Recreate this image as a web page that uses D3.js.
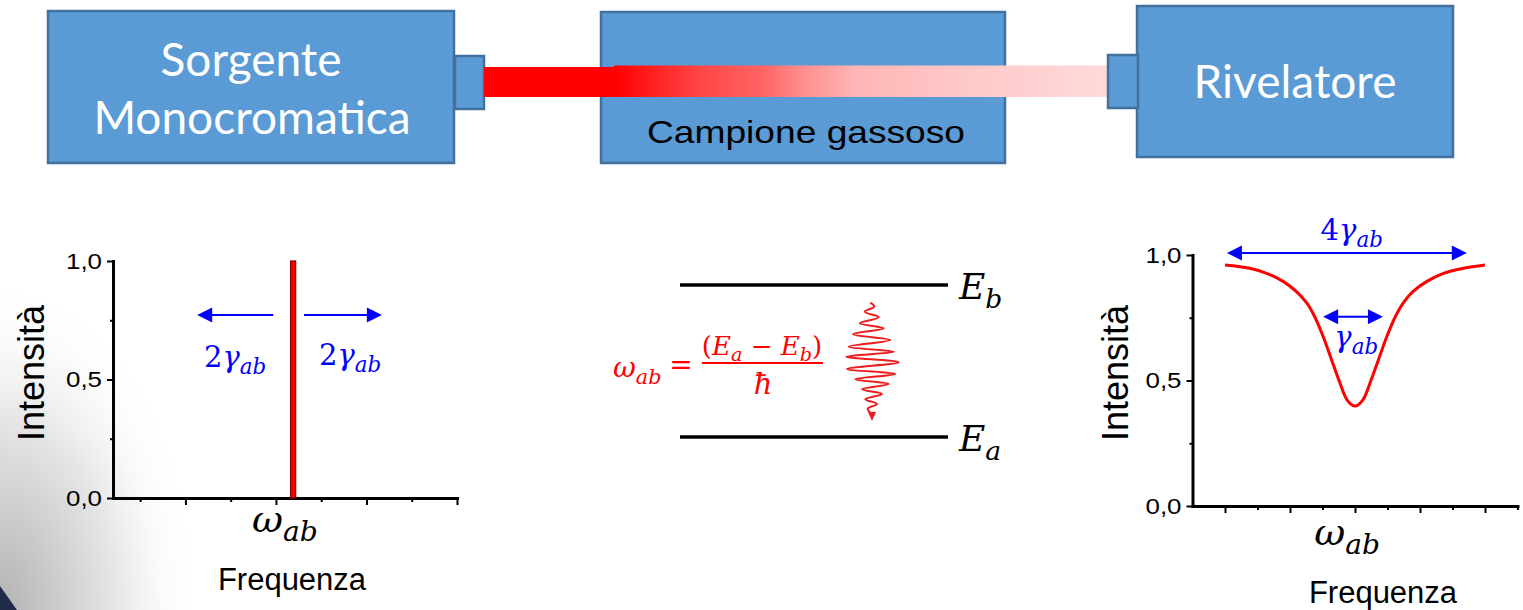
<!DOCTYPE html>
<html>
<head>
<meta charset="utf-8">
<script src="https://cdn.jsdelivr.net/npm/d3@7"></script>
<style>
  body { margin: 0; background: #ffffff; }
  svg { display: block; }
</style>
</head>
<body>
<svg id="fig" width="1523" height="610"></svg>
<script>
// ---------- data ----------
const tickValues = [0, 0.5, 1];
const tickLabels = ["0,0", "0,5", "1,0"];
const minorYTicks = [0.25, 0.75];

// incident beam: one monochromatic line just above ω_ab
const sourceFreq = [0.19];
const sourceIntensity = [1.0];

// transmitted beam: absorption dip centred on ω_ab (frequency in units of γ_ab)
const detFreq = [-2.0, -1.62, -1.36, -1.10, -0.90, -0.74, -0.62, -0.49, -0.36, -0.23, -0.12, 0,
                 0.12, 0.23, 0.36, 0.49, 0.62, 0.74, 0.89, 1.10, 1.36, 1.67, 2.0];
const detIntensity = [0.960, 0.947, 0.927, 0.894, 0.854, 0.808, 0.754, 0.675, 0.582, 0.489, 0.422, 0.398,
                      0.422, 0.489, 0.582, 0.675, 0.754, 0.808, 0.854, 0.894, 0.927, 0.947, 0.960];

const blockNames = [["Sorgente", "Monocromatica"], ["Campione gassoso"], ["Rivelatore"]];
const levelNames = ["b", "a"];

// ---------- setup ----------
const svg = d3.select("#fig");
const defs = svg.append("defs");
const BLUE = "#0000ff", RED = "#ff0000";
const BOX_FILL = "#5b9bd5", BOX_STROKE = "#41719c";
const SANS = "'Liberation Sans', Arial, sans-serif";
const MATH = "'DejaVu Serif', serif";
const BOXFONT = "Lato, 'Open Sans', sans-serif";

// slide background shading in the lower-left corner
const bg = defs.append("radialGradient").attr("id", "cornerShade")
  .attr("cx", 0).attr("cy", 1).attr("r", 1).attr("fx", 0).attr("fy", 1);
bg.append("stop").attr("offset", 0).attr("stop-color", "#b2b2b2");
bg.append("stop").attr("offset", 0.3).attr("stop-color", "#cdcdcd");
bg.append("stop").attr("offset", 0.6).attr("stop-color", "#e8e8e8");
bg.append("stop").attr("offset", 1).attr("stop-color", "#ffffff").attr("stop-opacity", 0);
svg.append("rect").attr("x", 0).attr("y", 280).attr("width", 200).attr("height", 330)
  .attr("fill", "url(#cornerShade)");
svg.append("path").attr("d", "M0,586 L17,610 L0,610 Z").attr("fill", "#1f2b48");

// ---------- apparatus ----------
const gTop = svg.append("g");
function block(x, y, w, h) {
  gTop.append("rect").attr("x", x).attr("y", y).attr("width", w).attr("height", h)
    .attr("fill", BOX_FILL).attr("stroke", BOX_STROKE).attr("stroke-width", 2.5);
}
block(48, 11, 406, 152);
block(601, 12, 404, 151);
block(1137, 6, 316, 151);
block(455, 56, 29, 53);

// beam: solid red out of the source, fading while crossing the sample
const beamGrad = defs.append("linearGradient").attr("id", "beamFade")
  .attr("gradientUnits", "userSpaceOnUse").attr("x1", 614).attr("x2", 1108).attr("y1", 0).attr("y2", 0);
[[0, "#ff0000"], [0.18, "#ff4848"], [0.3, "#ff6464"], [0.39, "#ff9292"], [0.49, "#ffb5b5"],
 [0.69, "#ffc7c7"], [1, "#ffdada"]].forEach(([o, c]) =>
  beamGrad.append("stop").attr("offset", o).attr("stop-color", c));
gTop.append("rect").attr("x", 484).attr("y", 67).attr("width", 132).attr("height", 30).attr("fill", RED);
gTop.append("rect").attr("x", 614).attr("y", 65.5).attr("width", 494).attr("height", 31.5).attr("fill", "url(#beamFade)");
block(1108, 55, 30, 53);

gTop.append("text").attr("x", 251).attr("y", 76).attr("text-anchor", "middle")
  .attr("font-family", BOXFONT).attr("font-size", 46).attr("fill", "#fff").text(blockNames[0][0]);
gTop.append("text").attr("x", 252).attr("y", 134).attr("text-anchor", "middle")
  .attr("font-family", BOXFONT).attr("font-size", 46).attr("fill", "#fff").text(blockNames[0][1]);
gTop.append("text").attr("x", 806).attr("y", 143).attr("text-anchor", "middle")
  .attr("font-family", SANS).attr("font-size", 32).attr("fill", "#000")
  .attr("textLength", 318).attr("lengthAdjust", "spacingAndGlyphs").text(blockNames[1][0]);
gTop.append("text").attr("x", 1295).attr("y", 98).attr("text-anchor", "middle")
  .attr("font-family", BOXFONT).attr("font-size", 46).attr("fill", "#fff").text(blockNames[2][0]);

// ---------- helpers ----------
// parts: [text, kind] with kind 'r' roman, 'i' italic, 's' italic subscript
function mathText(g, x, y, parts, size, color, anchor) {
  const t = g.append("text").attr("x", x).attr("y", y)
    .attr("text-anchor", anchor || "middle").attr("font-family", MATH)
    .attr("font-size", size).attr("fill", color);
  let shift = 0;
  parts.forEach(([s, k]) => {
    const ts = t.append("tspan").text(s);
    if (k !== "r") ts.attr("font-style", "italic");
    const target = k === "s" ? size * 0.24 : 0;
    if (target !== shift) { ts.attr("dy", target - shift); shift = target; }
    if (k === "s") ts.attr("font-size", size * 0.74);
  });
  return t;
}

function arrowHead(g, xTip, y, dir, color) {
  const L = 15, W = 7.5;
  g.append("path")
    .attr("d", `M${xTip},${y} L${xTip - dir * L},${y - W} L${xTip - dir * L},${y + W} Z`)
    .attr("fill", color);
}
function hArrow(g, x1, x2, y, color, both) {
  const dir = x2 > x1 ? 1 : -1;
  g.append("line").attr("x1", both ? x1 + dir * 10 : x1).attr("x2", x2 - dir * 10)
    .attr("y1", y).attr("y2", y).attr("stroke", color).attr("stroke-width", 2);
  arrowHead(g, x2, y, dir, color);
  if (both) arrowHead(g, x1, y, -dir, color);
}

function drawAxes(g, x, y, xMajor, xMinor) {
  const fmt = v => tickLabels[tickValues.indexOf(v)];
  const ya = g.append("g").attr("transform", `translate(${x.range()[0]},0)`)
    .call(d3.axisLeft(y).tickValues(tickValues).tickFormat(fmt).tickSize(6).tickPadding(5).tickSizeOuter(0));
  g.append("g").attr("transform", `translate(${x.range()[0]},0)`)
    .call(d3.axisLeft(y).tickValues(minorYTicks).tickFormat("").tickSize(3).tickSizeOuter(0))
    .select(".domain").remove();
  g.append("g").attr("transform", `translate(0,${y(0)})`)
    .call(d3.axisBottom(x).tickValues(xMajor).tickFormat("").tickSize(7).tickSizeOuter(0));
  g.append("g").attr("transform", `translate(0,${y(0)})`)
    .call(d3.axisBottom(x).tickValues(xMinor).tickFormat("").tickSize(4).tickSizeOuter(0))
    .select(".domain").remove();
  g.selectAll(".domain").attr("stroke", "#000").attr("stroke-width", 3).attr("stroke-linecap", "square");
  g.selectAll(".tick line").attr("stroke", "#000").attr("stroke-width", 2);
  ya.selectAll(".tick text").attr("font-family", SANS).attr("font-size", 22).attr("fill", "#000")
    .attr("textLength", 36).attr("lengthAdjust", "spacingAndGlyphs");
}

// ---------- left: source spectrum ----------
const xL = d3.scaleLinear().domain([-1.8, 2]).range([113, 457]);
const yL = d3.scaleLinear().domain([0, 1]).range([498, 261]);
const gL = svg.append("g");
drawAxes(gL, xL, yL, [-1, 0, 1, 2], [-1.5, -0.5, 0.5, 1.5]);

gL.selectAll("rect.line").data(sourceFreq.map((f, i) => [f, sourceIntensity[i]])).enter()
  .append("rect").attr("class", "line")
  .attr("x", d => xL(d[0]) - 2.5).attr("width", 5)
  .attr("y", d => yL(d[1])).attr("height", d => yL(0) - yL(d[1]))
  .attr("fill", RED).attr("stroke", "#7a0000").attr("stroke-width", 1.2);

hArrow(gL, xL(-0.03), xL(-0.87), yL(0.772), BLUE, false);
hArrow(gL, xL(0.31), xL(1.17), yL(0.772), BLUE, false);
mathText(gL, xL(-0.45), yL(0.553), [["2", "r"], ["γ", "i"], ["ab", "s"]], 29, BLUE);
mathText(gL, xL(0.82), yL(0.561), [["2", "r"], ["γ", "i"], ["ab", "s"]], 29, BLUE);

mathText(gL, xL(0.1), 532, [["ω", "i"], ["ab", "s"]], 38, "#000");
gL.append("text").attr("x", 292).attr("y", 590).attr("text-anchor", "middle")
  .attr("font-family", SANS).attr("font-size", 31).text("Frequenza");
gL.append("text").attr("transform", "translate(44,373) rotate(-90)").attr("text-anchor", "middle")
  .attr("font-family", SANS).attr("font-size", 36).text("Intensità");

// ---------- centre: energy levels ----------
const gC = svg.append("g");
const levelY = [285, 437];
levelY.forEach((yy, i) => {
  gC.append("line").attr("x1", 680).attr("x2", 948).attr("y1", yy).attr("y2", yy)
    .attr("stroke", "#000").attr("stroke-width", 3.5);
  mathText(gC, 959, yy + 14, [["E", "i"], [levelNames[i], "s"]], 36, "#000", "start");
});

// resonance condition
mathText(gC, 613, 377, [["ω", "i"], ["ab", "s"]], 28, RED, "start");
gC.append("text").attr("x", 681).attr("y", 374).attr("text-anchor", "middle")
  .attr("font-family", MATH).attr("font-size", 28).attr("fill", RED).text("=");
mathText(gC, 762, 355, [["(", "r"], ["E", "i"], ["a", "s"], [" − ", "r"], ["E", "i"], ["b", "s"], [")", "r"]], 26, RED);
gC.append("line").attr("x1", 702).attr("x2", 823).attr("y1", 363).attr("y2", 363)
  .attr("stroke", RED).attr("stroke-width", 2);
mathText(gC, 763, 394, [["ħ", "i"]], 29, RED);

// emitted photon: wavy arrow pointing down
const waveTurns = [[-1.7, 302.7], [2.3, 306.7], [-7.3, 311.7], [6.7, 317.3], [-12.3, 323.3], [11.7, 328.3],
  [-19, 334.3], [18.3, 340], [-23.3, 346.7], [21.7, 351.7], [-25.7, 356.7], [26.7, 362.3], [-25, 369],
  [23.3, 374], [-16.7, 379.3], [16.7, 384], [-10, 389.3], [10, 394], [-6.7, 399.3], [5, 404],
  [-4.3, 408.7], [0, 414]];
const waveX = 872;
gC.append("path").attr("d", d3.line().x(d => waveX + d[0]).y(d => d[1]).curve(d3.curveCatmullRom.alpha(0.5))(waveTurns))
  .attr("fill", "none").attr("stroke", "#ee1c1c").attr("stroke-width", 2);
gC.append("path").attr("d", `M${waveX},421 L${waveX - 4},412 L${waveX + 4},412 Z`).attr("fill", "#ee1c1c");

// ---------- right: detected spectrum ----------
const xR = d3.scaleLinear().domain([-2.5, 2.5]).range([1192.5, 1517.5]);
const yR = d3.scaleLinear().domain([0, 1]).range([506, 255]);
const gR = svg.append("g");
drawAxes(gR, xR, yR, [-2, -1, 0, 1, 2], [-1.5, -0.5, 0.5, 1.5, 2.5]);

gR.append("path").datum(detFreq.map((f, i) => [f, detIntensity[i]]))
  .attr("d", d3.line().x(d => xR(d[0])).y(d => yR(d[1])).curve(d3.curveCatmullRom.alpha(0.5)))
  .attr("fill", "none").attr("stroke", RED).attr("stroke-width", 3);

hArrow(gR, xR(-1.97), xR(1.72), yR(1.008), BLUE, true);
mathText(gR, xR(-0.05), yR(1.06), [["4", "r"], ["γ", "i"], ["ab", "s"]], 29, BLUE);
hArrow(gR, xR(-0.49), xR(0.43), yR(0.754), BLUE, true);
mathText(gR, xR(0.02), yR(0.633), [["γ", "i"], ["ab", "s"]], 29, BLUE);

mathText(gR, xR(-0.12), 545, [["ω", "i"], ["ab", "s"]], 38, "#000");
gR.append("text").attr("x", 1383).attr("y", 603).attr("text-anchor", "middle")
  .attr("font-family", SANS).attr("font-size", 31).text("Frequenza");
gR.append("text").attr("transform", "translate(1128,373) rotate(-90)").attr("text-anchor", "middle")
  .attr("font-family", SANS).attr("font-size", 36).text("Intensità");
</script>
</body>
</html>
